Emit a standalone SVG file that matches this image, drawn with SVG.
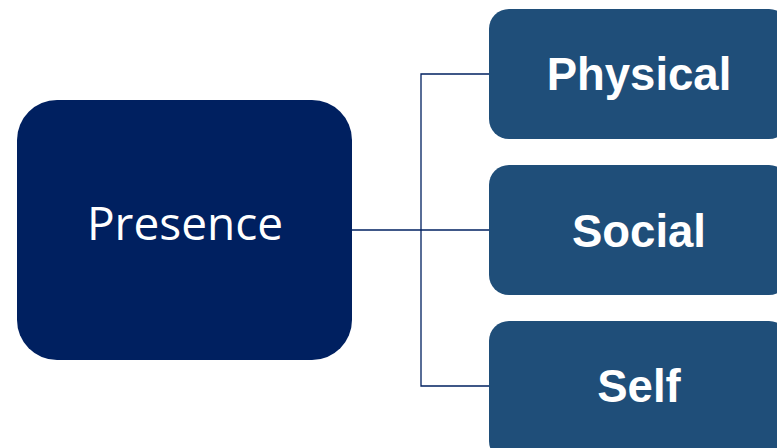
<svg xmlns="http://www.w3.org/2000/svg" width="777" height="448" viewBox="0 0 777 448">
  <style>
    .root { fill: #002060; }
    .leaf { fill: #1F4E79; }
    .root-label { fill: #ffffff; font-family: "Open Sans", "Noto Sans", sans-serif; font-size: 46px; text-anchor: middle; }
    .leaf-label { fill: #ffffff; font-family: "Liberation Sans", Arial, sans-serif; font-weight: bold; font-size: 45.5px; text-anchor: middle; }
    .link { fill: none; stroke: #002060; stroke-width: 1.3; }
  </style>
  <rect width="777" height="448" fill="#ffffff"/>
  <g id="connectors">
    <path class="link" d="M352 230 H489"/>
    <path class="link" d="M489 74 H421 V386 H489"/>
  </g>
  <g id="presence">
    <rect class="root" x="17" y="100" width="335" height="260" rx="40" ry="40"/>
    <text class="root-label" x="185" y="240">Presence</text>
  </g>
  <g id="physical">
    <rect class="leaf" x="489" y="9" width="300" height="130" rx="20" ry="20"/>
    <text class="leaf-label" x="639" y="90">Physical</text>
  </g>
  <g id="social">
    <rect class="leaf" x="489" y="165" width="300" height="130" rx="20" ry="20"/>
    <text class="leaf-label" x="639" y="247">Social</text>
  </g>
  <g id="self">
    <rect class="leaf" x="489" y="321" width="300" height="140" rx="20" ry="20"/>
    <text class="leaf-label" x="639" y="402">Self</text>
  </g>
</svg>
